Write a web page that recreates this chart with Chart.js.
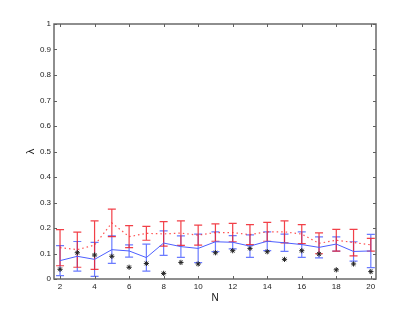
<!DOCTYPE html>
<html>
<head>
<meta charset="utf-8">
<script src="https://cdn.jsdelivr.net/npm/chart.js@4.4.0/dist/chart.umd.min.js"></script>
<style>
html, body { margin: 0; padding: 0; background: #fff; }
#wrap { width: 415px; height: 315px; }
</style>
</head>
<body>
<div id="wrap"><canvas id="lambdaChart" width="415" height="315"></canvas></div>
<script>
// values
const nValues  = [2, 3, 4, 5, 6, 7, 8, 9, 10, 11, 12, 13, 14, 15, 16, 17, 18, 19, 20];
const blueMean = [0.072, 0.089, 0.077, 0.115, 0.110, 0.084, 0.141, 0.127, 0.120, 0.146, 0.144, 0.129, 0.148, 0.142, 0.135, 0.124, 0.137, 0.108, 0.110];
const blueErr  = [0.059, 0.058, 0.067, 0.054, 0.024, 0.053, 0.048, 0.042, 0.056, 0.039, 0.026, 0.044, 0.037, 0.034, 0.050, 0.041, 0.028, 0.038, 0.065];
const redMean  = [0.123, 0.115, 0.133, 0.220, 0.166, 0.179, 0.177, 0.180, 0.172, 0.182, 0.182, 0.174, 0.185, 0.185, 0.176, 0.140, 0.152, 0.143, 0.134];
const redErr   = [0.071, 0.069, 0.095, 0.054, 0.043, 0.027, 0.048, 0.048, 0.039, 0.034, 0.036, 0.039, 0.037, 0.043, 0.037, 0.041, 0.043, 0.052, 0.025];
const starVals = [0.038, 0.103, 0.094, 0.089, 0.046, 0.061, 0.022, 0.065, 0.059, 0.103, 0.111, 0.120, 0.107, 0.077, 0.111, 0.098, 0.036, 0.059, 0.029];

const xTicks = [2, 4, 6, 8, 10, 12, 14, 16, 18, 20];
const yTicks = [0, 0.1, 0.2, 0.3, 0.4, 0.5, 0.6, 0.7, 0.8, 0.9, 1];

function pts(values) {
    return nValues.map((n, i) => ({x: n, y: values[i]}));
}

// vertical error bars with caps, drawn under the lines
const errorBars = {
    id: 'errorBars',
    beforeDatasetsDraw(chart) {
        const ctx = chart.ctx;
        const xs = chart.scales.x;
        const ys = chart.scales.y;
        const cap = 4;
        ctx.save();
        chart.data.datasets.forEach(ds => {
            if (!ds.errors) return;
            ctx.strokeStyle = ds.errorColor;
            ctx.lineWidth = 1.2;
            ds.data.forEach((p, i) => {
                let px = xs.getPixelForValue(p.x);
                let top = ys.getPixelForValue(p.y + ds.errors[i]);
                let bot = ys.getPixelForValue(p.y - ds.errors[i]);
                ctx.beginPath();
                ctx.moveTo(px, top); ctx.lineTo(px, bot);
                ctx.moveTo(px - cap, top); ctx.lineTo(px + cap, top);
                ctx.moveTo(px - cap, bot); ctx.lineTo(px + cap, bot);
                ctx.stroke();
            });
        });
        ctx.restore();
    }
};

// matlab style box with inward ticks on all four sides
const axesBox = {
    id: 'axesBox',
    afterDraw(chart) {
        const ctx = chart.ctx;
        const a = chart.chartArea;
        const xs = chart.scales.x;
        const ys = chart.scales.y;
        const len = 3;
        ctx.save();
        ctx.strokeStyle = '#6a6a6a';
        ctx.lineWidth = 1.5;
        ctx.strokeRect(a.left, a.top, a.right - a.left, a.bottom - a.top);
        ctx.lineWidth = 1;
        ctx.strokeStyle = '#606060';
        ctx.beginPath();
        xTicks.forEach(v => {
            let px = Math.round(xs.getPixelForValue(v)) + 0.5;
            ctx.moveTo(px, a.bottom); ctx.lineTo(px, a.bottom - len);
            ctx.moveTo(px, a.top); ctx.lineTo(px, a.top + len);
        });
        yTicks.forEach(v => {
            let py = Math.round(ys.getPixelForValue(v)) + 0.5;
            ctx.moveTo(a.left, py); ctx.lineTo(a.left + len, py);
            ctx.moveTo(a.right, py); ctx.lineTo(a.right - len, py);
        });
        ctx.stroke();
        ctx.restore();
    }
};

const tickFont = {family: '"Liberation Sans", Arial, sans-serif', size: 8};

new Chart(document.getElementById('lambdaChart'), {
    type: 'line',
    data: {
        datasets: [
            {
                label: 'blue',
                data: pts(blueMean),
                errors: blueErr,
                errorColor: 'rgba(80, 100, 255, 0.85)',
                borderColor: '#4d5fff',
                borderWidth: 1,
                pointRadius: 0,
                fill: false
            },
            {
                label: 'red',
                data: pts(redMean),
                errors: redErr,
                errorColor: 'rgba(240, 30, 40, 0.85)',
                borderColor: 'rgba(255, 40, 40, 0.8)',
                borderWidth: 1.2,
                borderDash: [1.5, 3],
                pointRadius: 0,
                fill: false
            },
            {
                label: 'stars',
                data: pts(starVals),
                showLine: false,
                pointStyle: 'star',
                pointRadius: 2.6,
                pointBorderWidth: 1,
                pointBorderColor: '#222',
                pointBackgroundColor: '#222'
            }
        ]
    },
    options: {
        responsive: false,
        animation: false,
        devicePixelRatio: 1,
        layout: {
            padding: {left: 0, right: 39, top: 24, bottom: 0}
        },
        plugins: {
            legend: {display: false},
            tooltip: {enabled: false}
        },
        scales: {
            x: {
                type: 'linear',
                min: 1.65,
                max: 20.3,
                afterBuildTicks: scale => { scale.ticks = xTicks.map(v => ({value: v})); },
                afterFit: scale => { scale.height = 36; },
                grid: {display: false, drawTicks: false},
                border: {display: false},
                ticks: {
                    font: tickFont,
                    color: '#222',
                    padding: 3,
                    maxRotation: 0,
                    callback: v => String(v)
                },
                title: {
                    display: true,
                    text: 'N',
                    font: {family: '"Liberation Sans", Arial, sans-serif', size: 10},
                    color: '#111',
                    padding: {top: 0, bottom: 11}
                }
            },
            y: {
                type: 'linear',
                min: 0,
                max: 1,
                afterBuildTicks: scale => { scale.ticks = yTicks.map(v => ({value: v})); },
                afterFit: scale => { scale.width = 54; },
                grid: {display: false, drawTicks: false},
                border: {display: false},
                ticks: {
                    font: tickFont,
                    color: '#222',
                    padding: 3,
                    callback: v => String(v)
                },
                title: {
                    display: true,
                    text: 'λ',
                    font: {family: '"Liberation Sans", Arial, sans-serif', size: 11},
                    color: '#111',
                    padding: {top: 24, bottom: 0}
                }
            }
        }
    },
    plugins: [errorBars, axesBox]
});
</script>
</body>
</html>
